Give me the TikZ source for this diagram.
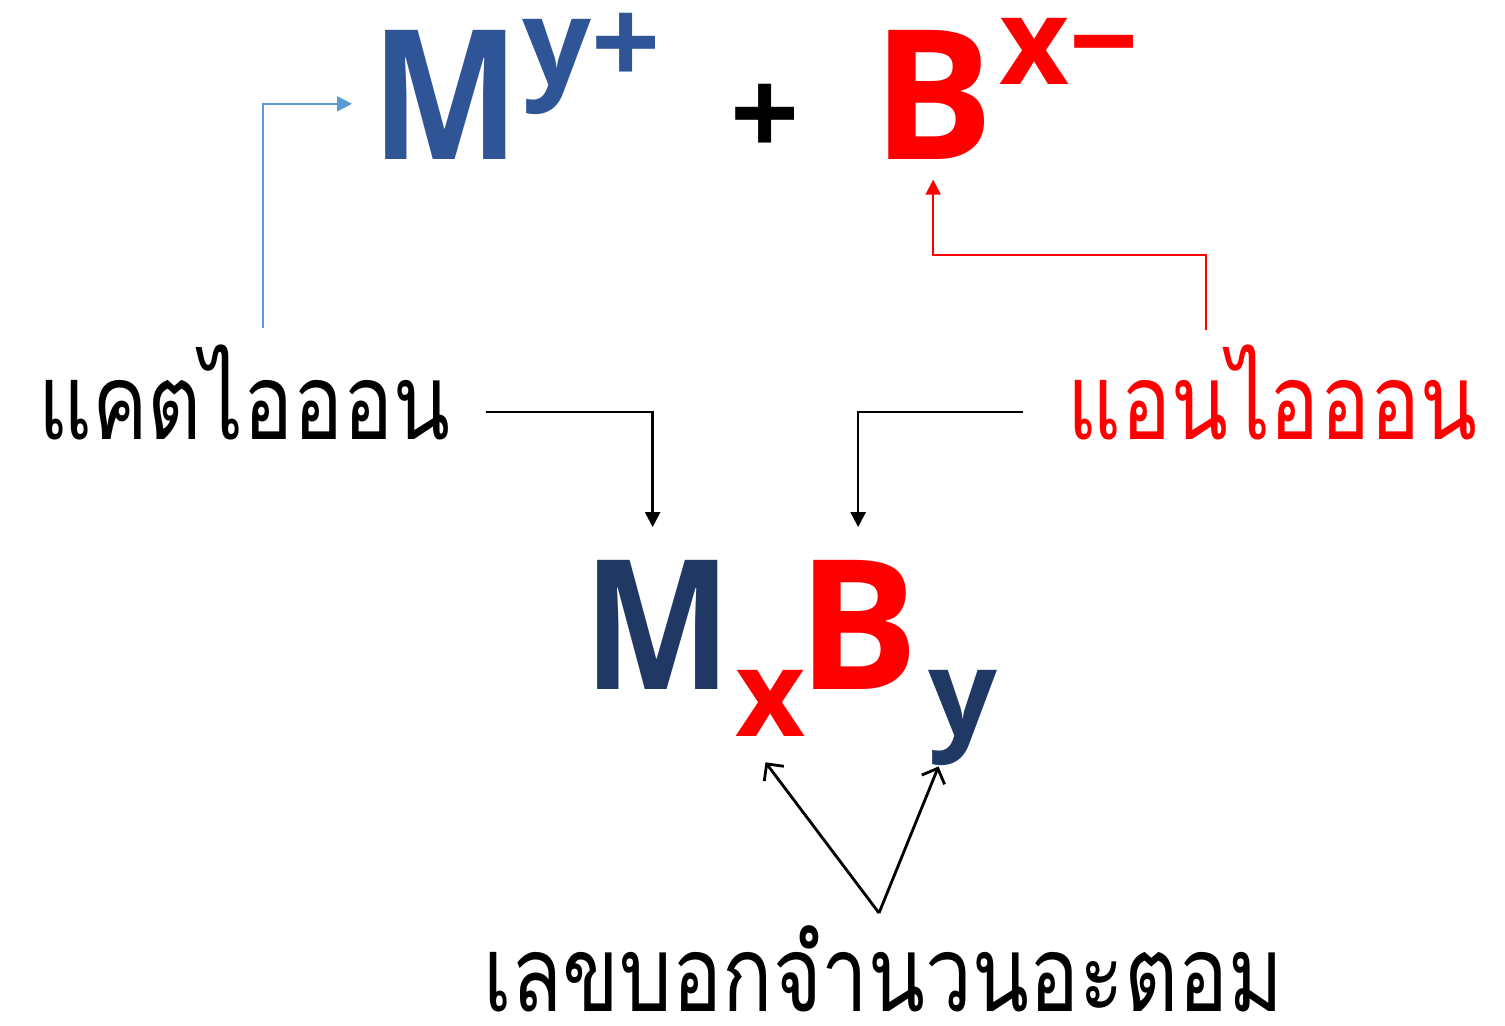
\documentclass[tikz,border=0pt]{standalone}
\usepackage{fontspec}
\setmainfont{Open Sans}
\newfontfamily\narrowfont[FakeStretch=0.87]{Open Sans}
\newfontfamily\thaifont[Script=Thai, FakeStretch=0.79]{Loma}
\usetikzlibrary{arrows.meta, positioning}
\definecolor{ionblue}{HTML}{2F5597}
\definecolor{ionnavy}{HTML}{203864}
\definecolor{ionred}{HTML}{FF0000}
\definecolor{linkblue}{HTML}{5B9BD5}

\begin{document}
\begin{tikzpicture}[
    x=0.02cm, y=-0.02cm,
    big/.style={inner sep=0pt, font=\fontsize{103}{103}\selectfont\bfseries},
    bigM/.style={big, font=\narrowfont\fontsize{103}{103}\selectfont\bfseries},
    small/.style={inner sep=0pt, font=\fontsize{69}{69}\selectfont\bfseries},
    thai/.style={inner sep=0pt, font=\thaifont\fontsize{60}{64}\selectfont},
    flow/.style={-{Triangle[length=8.5pt, width=8.5pt]}, line width=1.4pt},
    link/.style={flow, line width=1.1pt},
    count/.style={-{Straight Barb[length=7pt, width=14pt]}, line width=1.6pt},
]
\useasboundingbox (0,0) rectangle (1505,1026);

% Ions
\node[bigM, ionblue, anchor=base west] (M) at (371,160) {M};
\node[small, ionblue, anchor=base west] (Mchg) at (522,86) {y+};
\node[small] (plus) at (765,120) {+};
\node[big, ionred, anchor=base west] (B) at (872,160) {B};
\node[small, ionred, anchor=base west] (Bchg) at (999,85) {x−};

% Labels
\node[thai, anchor=base west] (cat) at (38,440) {แคตไอออน};
\node[thai, ionred, anchor=base west] (an) at (1067,440) {แอนไอออน};
\node[thai, anchor=base west] (count) at (483,1011) {เลขบอกจำนวนอะตอม};

% Formula
\node[bigM, ionnavy, anchor=base west] (fM) at (583,690) {M};
\node[small, ionred, anchor=base west] (fx) at (735,737) {x};
\node[big, ionred, anchor=base west] (fB) at (797,690) {B};
\node[small, ionnavy, anchor=base west] (fy) at (928,737) {y};

% Free ends
\coordinate (catup) at (263,328);
\coordinate (anup) at (1206,330);
\coordinate (catright) at (486,412);
\coordinate (anleft) at (1023,412);
\coordinate (countup) at (879,913);

% Arrows
\draw[link, linkblue, shorten >=10.8pt] (catup) |- ([yshift=-4.8pt]M.west);
\draw[link, ionred, shorten >=11pt] (anup) -- ++(0,-75) -| (B.south);
\draw[flow, shorten >=19pt] (catright) -| ([xshift=-2.8pt]fM.north);
\draw[flow, shorten >=19pt] (anleft) -| (fB.north);
\draw[count] (countup) -- ([xshift=-2.8pt, yshift=-14.2pt]fx.south);
\draw[count] (countup) -- ([xshift=6pt]fy.south west);
\end{tikzpicture}
\end{document}
